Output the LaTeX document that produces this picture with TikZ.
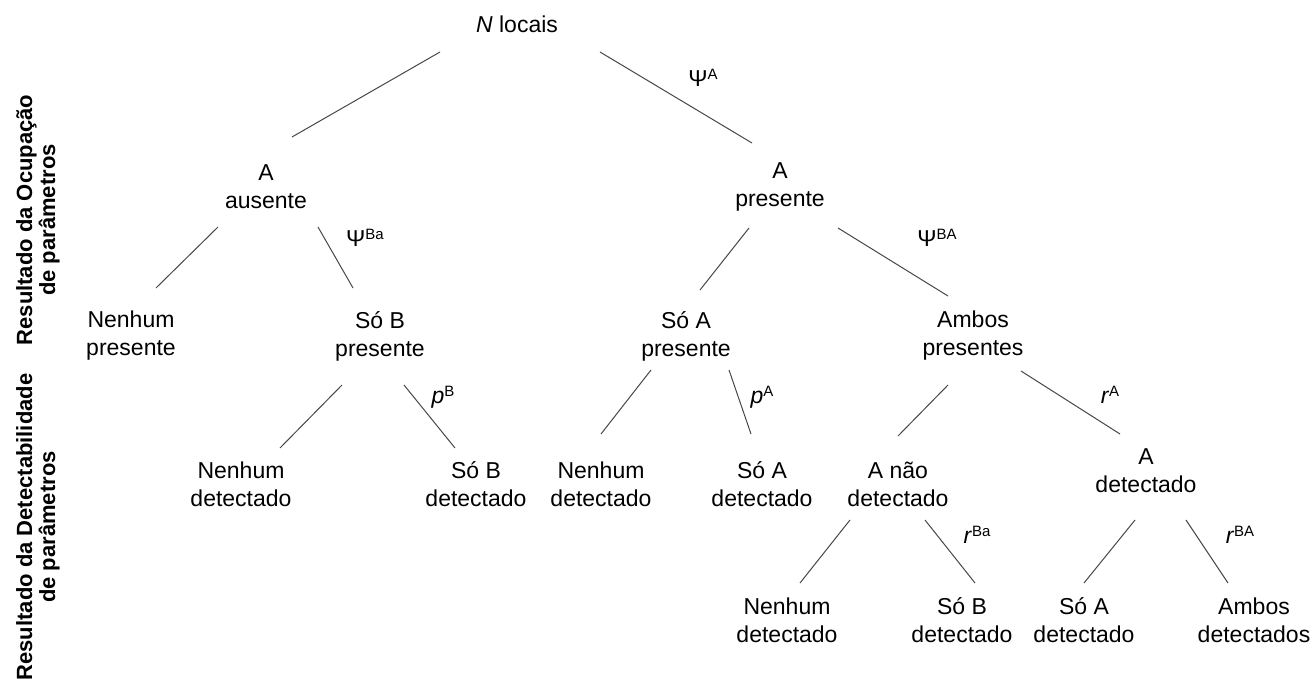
\documentclass[tikz,border=0pt]{standalone}
\usepackage{fontspec}
\setmainfont{Liberation Sans}
\newcommand\supx[1]{\raisebox{6.5pt}{\fontsize{15}{15}\selectfont #1}}
\tikzset{
  lbl/.style={align=center, inner sep=0pt, font=\fontsize{23}{28}\selectfont},
  par/.style={inner sep=0pt, font=\fontsize{23}{28}\selectfont},
  side/.style={align=center, inner sep=0pt, rotate=90, font=\fontsize{22}{23}\selectfont\bfseries},
  edge/.style={draw=black!72, line width=1pt}
}
\begin{document}
\begin{tikzpicture}[x=1pt,y=-1pt]
\useasboundingbox (0,0) rectangle (1315,679);
% nodes
\node[lbl] (root) at (517,24) {\textit{N} locais};
\node[lbl] (aus) at (266,187) {A\\ausente};
\node[lbl] (pre) at (780,187) {A\\presente};
\node[lbl] (nen1) at (131,336) {Nenhum\\presente};
\node[lbl] (sob) at (380,336) {Só B\\presente};
\node[lbl] (soa) at (686,336) {Só A\\presente};
\node[lbl] (amb) at (973,336) {Ambos\\presentes};
\node[lbl] (nd1) at (241,484) {Nenhum\\detectado};
\node[lbl] (sbd) at (476,484) {Só B\\detectado};
\node[lbl] (nd2) at (601,484) {Nenhum\\detectado};
\node[lbl] (sad) at (762,484) {Só A\\detectado};
\node[lbl] (anao) at (898,484) {A não\\detectado};
\node[lbl] (ad) at (1146,471) {A\\detectado};
\node[lbl] (nd3) at (787,620) {Nenhum\\detectado};
\node[lbl] (sbd2) at (962,620) {Só B\\detectado};
\node[lbl] (sad2) at (1084,620) {Só A\\detectado};
\node[lbl] (ambd) at (1254,620) {Ambos\\detectados};
% parameter labels
\node[par] (pa) at (703,78) {Ψ\supx{A}};
\node[par] (pba) at (365,238) {Ψ\supx{Ba}};
\node[par] (pbA) at (937,238) {Ψ\supx{BA}};
\node[par] (pB) at (443,397) {\textit{p}\supx{B}};
\node[par] (pAd) at (762,397) {\textit{p}\supx{A}};
\node[par] (rA) at (1110,395) {\textit{r}\supx{A}};
\node[par] (rBa) at (977,535) {\textit{r}\supx{Ba}};
\node[par] (rBA) at (1240,535) {\textit{r}\supx{BA}};
% side labels
\node[side] (s1) at (38,220) {Resultado da Ocupação\\de parâmetros};
\node[side] (s2) at (38,527) {Resultado da Detectabilidade\\de parâmetros};
% edges
\draw[edge] ([shift={(-77,28)}]root.center) -- ([shift={(26,-50)}]aus.center);
\draw[edge] ([shift={(83,28)}]root.center) -- ([shift={(-28,-44)}]pre.center);
\draw[edge] ([shift={(-48,40)}]aus.center) -- ([shift={(25,-48)}]nen1.center);
\draw[edge] ([shift={(52,40)}]aus.center) -- ([shift={(-27,-48)}]sob.center);
\draw[edge] ([shift={(-31,41)}]pre.center) -- ([shift={(14,-46)}]soa.center);
\draw[edge] ([shift={(58,41)}]pre.center) -- ([shift={(-25,-40)}]amb.center);
\draw[edge] ([shift={(-38,49)}]sob.center) -- ([shift={(39,-36)}]nd1.center);
\draw[edge] ([shift={(24,49)}]sob.center) -- ([shift={(-21,-36)}]sbd.center);
\draw[edge] ([shift={(-35,34)}]soa.center) -- ([shift={(0,-50)}]nd2.center);
\draw[edge] ([shift={(43,34)}]soa.center) -- ([shift={(-11,-50)}]sad.center);
\draw[edge] ([shift={(-25,49)}]amb.center) -- ([shift={(0,-48)}]anao.center);
\draw[edge] ([shift={(48,35)}]amb.center) -- ([shift={(-26,-37)}]ad.center);
\draw[edge] ([shift={(-48,36)}]anao.center) -- ([shift={(13,-37)}]nd3.center);
\draw[edge] ([shift={(27,36)}]anao.center) -- ([shift={(13,-37)}]sbd2.center);
\draw[edge] ([shift={(-11,49)}]ad.center) -- ([shift={(0,-37)}]sad2.center);
\draw[edge] ([shift={(40,49)}]ad.center) -- ([shift={(-26,-37)}]ambd.center);
\end{tikzpicture}
\end{document}
